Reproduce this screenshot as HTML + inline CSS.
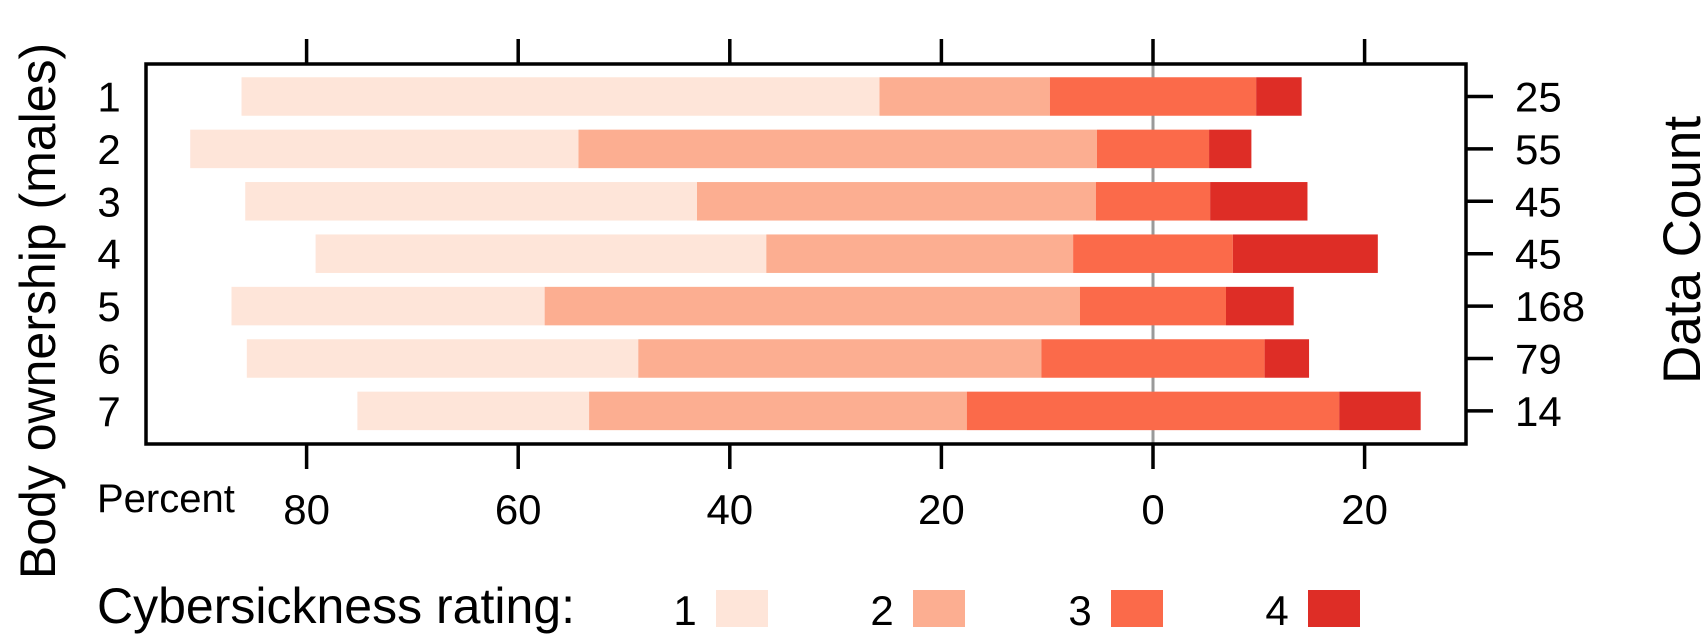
<!DOCTYPE html>
<html><head><meta charset="utf-8"><style>
html,body{margin:0;padding:0;background:#fff;}
svg{display:block;font-family:"Liberation Sans",sans-serif;}
</style></head><body>
<svg id="chart" width="1705" height="640" viewBox="0 0 1705 640" xmlns="http://www.w3.org/2000/svg"></svg>
<script>
const categories = ["1","2","3","4","5","6","7"];
const counts = ["25","55","45","45","168","79","14"];
const rating1 = [60.3, 36.7, 42.7, 42.6, 29.6, 37.0, 21.9];
const rating2 = [16.1, 49.0, 37.7, 29.0, 50.6, 38.1, 35.7];
const rating3 = [19.5, 10.6, 10.8, 15.1, 13.8, 21.1, 35.2];
const rating4 = [4.3, 4.0, 9.2, 13.7, 6.4, 4.2, 7.7];
const tickValues = [-80, -60, -40, -20, 0, 20];
const tickLabels = ["80", "60", "40", "20", "0", "20"];
const legendLabels = ["1", "2", "3", "4"];

const colors = ["#FEE5D9", "#FCAE91", "#FB6A4A", "#DE2D26"];
const svg = document.getElementById('chart');
const NS = "http://www.w3.org/2000/svg";
const box = {l:146, r:1466, t:64, b:444};
const zeroX = 1153, pxPerUnit = 10.58;
const x = v => zeroX + v * pxPerUnit;
const rowY = i => 96.5 + i * 52.4;
const barH = 38.5;

function mk(tag, attrs, parent) {
  const e = document.createElementNS(NS, tag);
  for (const k in attrs) e.setAttribute(k, attrs[k]);
  (parent || svg).appendChild(e);
  return e;
}

const zl = mk('line', {x1:x(0), x2:x(0), y1:box.t, y2:box.b, stroke:'#9a9a9a', 'stroke-width':3});



const series = [rating1, rating2, rating3, rating4];
categories.forEach((c, i) => {
  const g = mk('g', {});
  
  
  const half = rating3[i] / 2;
  const starts = [-(half + rating2[i] + rating1[i]), -(half + rating2[i]), -half, rating3[i] - half];
  series.forEach((s, k) => {
    const x0 = x(starts[k]), x1 = x(starts[k] + s[i]);
    const r = mk('rect', {x:x0, y:rowY(i) - barH/2, width:Math.max(0, x1 - x0), height:barH, fill:colors[k]}, g);
    
    
  });
  const yl = mk('text', {x:109, y:rowY(i) + 15, 'font-size':42, 'text-anchor':'middle', fill:'#000'});
  yl.textContent = c;
  
  
  const rt = mk('line', {x1:box.r, x2:box.r + 27, y1:rowY(i), y2:rowY(i), stroke:'#000', 'stroke-width':3.5});
  
  
  const cl = mk('text', {x:1515, y:rowY(i) + 15, 'font-size':42, fill:'#000'});
  cl.textContent = counts[i];
  
  
});

const fr = mk('rect', {x:box.l, y:box.t, width:box.r - box.l, height:box.b - box.t, fill:'none', stroke:'#000', 'stroke-width':3.5});



tickValues.forEach((v, i) => {
  const t1 = mk('line', {x1:x(v), x2:x(v), y1:39, y2:box.t, stroke:'#000', 'stroke-width':3.5});
  
  
  const t2 = mk('line', {x1:x(v), x2:x(v), y1:box.b, y2:469, stroke:'#000', 'stroke-width':3.5});
  
  
  const tl = mk('text', {x:x(v), y:524, 'font-size':42, 'text-anchor':'middle', fill:'#000'});
  tl.textContent = tickLabels[i];
  
  
});

const legX = [716, 913, 1111, 1308];
legendLabels.forEach((l, k) => {
  const r = mk('rect', {x:legX[k], y:590, width:52, height:37, fill:colors[k]});
  
  
  const t = mk('text', {x:legX[k] - 31, y:625, 'font-size':42, 'text-anchor':'middle', fill:'#000'});
  t.textContent = l;
  
  
});
</script>
<svg style="position:absolute;left:0;top:0" width="1705" height="640">
  <text x="97" y="512" font-size="40" font-family="Liberation Sans, sans-serif">Percent</text>
  <text x="97" y="623" font-size="50" font-family="Liberation Sans, sans-serif">Cybersickness rating:</text>
  <text transform="translate(55,311) rotate(-90)" text-anchor="middle" font-size="50" font-family="Liberation Sans, sans-serif">Body ownership (males)</text>
  <text transform="translate(1700,250) rotate(-90)" text-anchor="middle" font-size="53" font-family="Liberation Sans, sans-serif">Data Count</text>
</svg>
</body></html>
